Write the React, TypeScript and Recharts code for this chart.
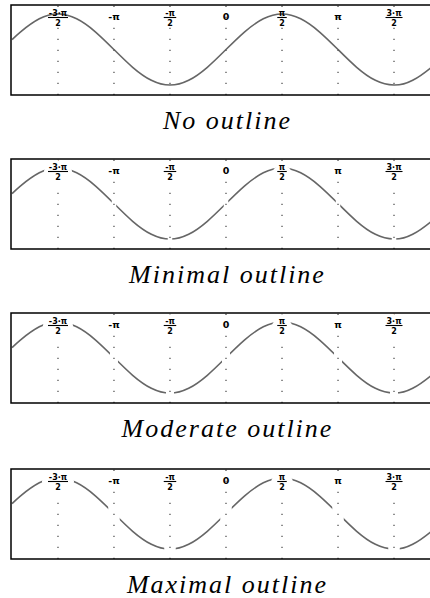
import React from 'react';
import {
  LineChart,
  Line,
  XAxis,
  YAxis,
  ReferenceLine,
  ReferenceDot,
  ReferenceArea,
} from 'recharts';

// Sampled points of the curve (x in radians, y value)
const sampleX = [
  -6, -5.76, -5.236, -4.712, -4.189, -3.665, -3.142, -2.618, -2.094, -1.571, -1.047, -0.524,
  0, 0.524, 1.047, 1.571, 2.094, 2.618, 3.142, 3.665, 4.189, 4.712, 5.236, 5.76, 6,
];
const sampleY = [
  0.279, 0.5, 0.866, 1, 0.866, 0.5, 0, -0.5, -0.866, -1, -0.866, -0.5,
  0, 0.5, 0.866, 1, 0.866, 0.5, 0, -0.5, -0.866, -1, -0.866, -0.5, -0.279,
];

// Grid positions at multiples of pi/2 and their labels (numerator / denominator)
const tickValues = [-4.712, -3.142, -1.571, 0, 1.571, 3.142, 4.712];
const tickNumerators = ['-3·π', '-π', '-π', '0', 'π', 'π', '3·π'];
const tickDenominators = ['2', '', '2', '', '2', '', '2'];

const panelTitles = ['No outline', 'Minimal outline', 'Moderate outline', 'Maximal outline'];

const X_MIN = -6.03;
const X_MAX = 6.03;
const Y_MIN = -1.28;
const Y_MAX = 1.255;

const curveData = sampleX.map((x, i) => ({ x, y: sampleY[i] }));

// Halo widths per panel: grid line halo and label halo
const outlineStyles = [
  { grid: 0, label: 0 },
  { grid: 4.5, label: 7 },
  { grid: 8, label: 9 },
  { grid: 11.5, label: 11 },
];

const PANEL_TOPS = [5, 159, 313, 469];
const PLOT_H = 90;
const PLOT_W = 430;
const PAD = 4;

const glyphW: Record<string, number> = { '-': 3, '3': 5, '·': 2.5, 'π': 5.5, '0': 5, '2': 5 };
const approxWidth = (s: string) => Array.from(s).reduce((a, c) => a + (glyphW[c] ?? 5), 0);

const labelFont = {
  fontFamily: 'DejaVu Sans, sans-serif',
  fontWeight: 700 as const,
};

// One label piece: a white halo pass and a black fill pass
type Piece = { kind: 'text'; x: number; y: number; size: number; s: string } | { kind: 'bar'; x1: number; x2: number; y: number };

function renderPieces(pieces: Piece[], halo: number) {
  const halos =
    halo > 0
      ? pieces.map((p, k) =>
          p.kind === 'text' ? (
            <text
              key={`h${k}`}
              x={p.x}
              y={p.y}
              textAnchor="middle"
              fontSize={p.size}
              {...labelFont}
              fill="#fff"
              stroke="#fff"
              strokeWidth={halo}
              strokeLinejoin="round"
            >
              {p.s}
            </text>
          ) : (
            <line
              key={`h${k}`}
              x1={p.x1}
              x2={p.x2}
              y1={p.y}
              y2={p.y}
              stroke="#fff"
              strokeWidth={1 + halo}
              strokeLinecap="round"
            />
          )
        )
      : null;
  const fills = pieces.map((p, k) =>
    p.kind === 'text' ? (
      <text key={`f${k}`} x={p.x} y={p.y} textAnchor="middle" fontSize={p.size} {...labelFont} fill="#000">
        {p.s}
      </text>
    ) : (
      <line key={`f${k}`} x1={p.x1} x2={p.x2} y1={p.y} y2={p.y} stroke="#000" strokeWidth={1.1} />
    )
  );
  return (
    <g>
      {halos}
      {fills}
    </g>
  );
}

function TickLabel(props: any) {
  const { cx, cy, num, den, halo } = props;
  if (cx == null || cy == null) return null;
  const x = cx;
  const mid = cy + 12.5;
  if (!den) {
    return renderPieces([{ kind: 'text', x, y: cy + 15, size: 9.5, s: num }], halo);
  }
  const bw = approxWidth(num) + 4;
  return renderPieces(
    [
      { kind: 'text', x, y: mid - 1.6, size: 8, s: num },
      { kind: 'text', x, y: mid + 8.4, size: 8, s: den },
      { kind: 'bar', x1: x - bw / 2, x2: x + bw / 2, y: mid },
    ],
    halo
  );
}

function Panel({ index }: { index: number }) {
  const style = outlineStyles[index];
  return (
    <div style={{ position: 'absolute', left: 11 - PAD, top: PANEL_TOPS[index] - PAD }}>
      <LineChart
        width={PLOT_W + 2 * PAD}
        height={PLOT_H + 2 * PAD}
        data={curveData}
        margin={{ top: PAD, right: PAD, bottom: PAD, left: PAD }}
      >
        <XAxis dataKey="x" type="number" domain={[X_MIN, X_MAX]} allowDataOverflow hide />
        <YAxis type="number" domain={[Y_MIN, Y_MAX]} allowDataOverflow hide />
        <Line
          dataKey="y"
          type="natural"
          stroke="#666"
          strokeWidth={1.6}
          dot={false}
          activeDot={false}
          isAnimationActive={false}
          zIndex={400}
        />
        {style.grid > 0 &&
          tickValues.map((v) => (
            <ReferenceLine
              key={`h${v}`}
              x={v}
              stroke="#fff"
              strokeWidth={style.grid}
              zIndex={410}
            />
          ))}
        {tickValues.map((v) => (
          <ReferenceLine
            key={`g${v}`}
            x={v}
            stroke="#555"
            strokeWidth={1.3}
            strokeDasharray="1.3 9.7"
            zIndex={420}
          />
        ))}
        {tickValues.map((v, i) => (
          <ReferenceDot
            key={`l${v}`}
            x={v}
            y={Y_MAX}
            ifOverflow="visible"
            zIndex={430}
            shape={(p: any) => (
              <TickLabel
                cx={p.cx}
                cy={p.cy}
                num={tickNumerators[i]}
                den={tickDenominators[i]}
                halo={style.label}
              />
            )}
          />
        ))}
        <ReferenceArea
          x1={X_MIN}
          x2={X_MAX}
          y1={Y_MIN}
          y2={Y_MAX}
          fill="none"
          fillOpacity={0}
          stroke="#000"
          strokeWidth={1.5}
          ifOverflow="visible"
          zIndex={440}
        />
      </LineChart>
    </div>
  );
}

export default function App() {
  return (
    <div
      style={{
        position: 'absolute',
        left: 0,
        top: 0,
        width: 430,
        height: 598,
        overflow: 'hidden',
        background: '#fff',
      }}
    >
      {panelTitles.map((_, i) => (
        <Panel key={i} index={i} />
      ))}
      <svg
        width={430}
        height={598}
        style={{ position: 'absolute', left: 0, top: 0, pointerEvents: 'none' }}
      >
        {panelTitles.map((t, i) => (
          <text
            key={t}
            x={227.5}
            y={PANEL_TOPS[i] + PLOT_H + 34}
            textAnchor="middle"
            style={{
              fontFamily: 'Liberation Serif, Times New Roman, serif',
              fontStyle: 'italic',
              fontSize: 26,
              letterSpacing: 2,
            }}
            fill="#000"
          >
            {t}
          </text>
        ))}
      </svg>
    </div>
  );
}
